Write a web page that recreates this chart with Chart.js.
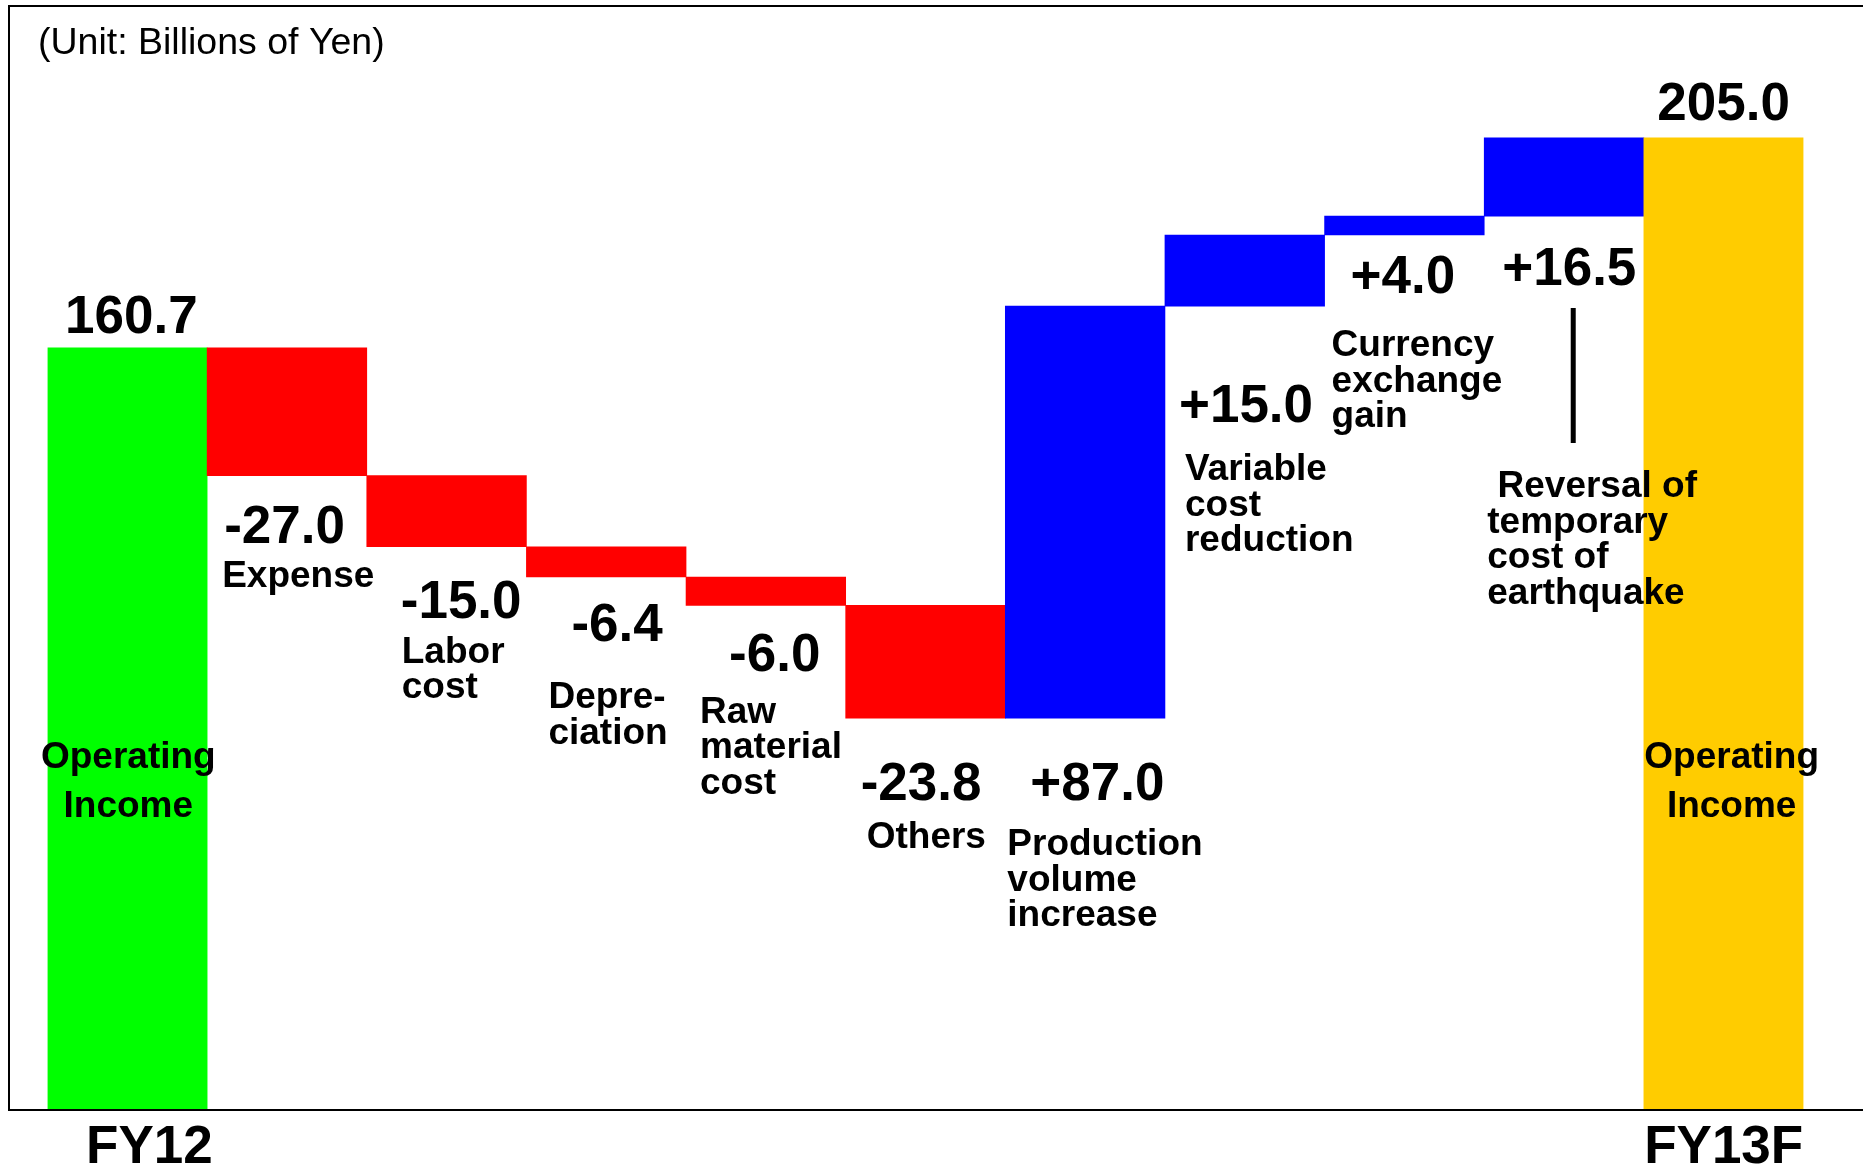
<!DOCTYPE html>
<html>
<head>
<meta charset="utf-8">
<script src="https://cdn.jsdelivr.net/npm/chart.js@4.4.1/dist/chart.umd.min.js"></script>
<style>
  html, body { margin: 0; padding: 0; background: #ffffff; }
  canvas { display: block; }
</style>
</head>
<body>
<canvas id="bridge" width="1863" height="1168"></canvas>
<script>
// Operating income bridge, FY12 -> FY13F (billions of yen)
const periods = ['FY12', 'FY13F'];
const startTotal = 160.7;
const endTotal = 205.0;
const changeValues = [-27.0, -15.0, -6.4, -6.0, -23.8, 87.0, 15.0, 4.0, 16.5];
const changeNames = [
  ['Expense'],
  ['Labor', 'cost'],
  ['Depre-', 'ciation'],
  ['Raw', 'material', 'cost'],
  ['Others'],
  ['Production', 'volume', 'increase'],
  ['Variable', 'cost', 'reduction'],
  ['Currency', 'exchange', 'gain'],
  [' Reversal of', 'temporary', 'cost of', 'earthquake']
];
const totalCaption = ['Operating', 'Income'];
const unitNote = '(Unit: Billions of Yen)';

const COLORS = { start: '#00ff00', end: '#ffcc00', down: '#ff0000', up: '#0000ff' };
const FONT = '"Liberation Sans", Arial, Helvetica, sans-serif';

// Categories along the bottom; only the two periods carry a tick label
const categories = [periods[0], ...changeNames.map(l => l.join(' ').trim()), periods[1]];

// Floating bar ranges built from the running total
const ranges = [[0, startTotal]];
let running = startTotal;
changeValues.forEach(v => {
  const next = Math.round((running + v) * 10) / 10;
  ranges.push([Math.min(running, next), Math.max(running, next)]);
  running = next;
});
ranges.push([0, endTotal]);
const barColors = [COLORS.start, ...changeValues.map(v => v < 0 ? COLORS.down : COLORS.up), COLORS.end];

// Label placement relative to each step bar: [dx from bar left, dy below bar's lower edge]
const valueLabelPos = [[17, 67], [34, 71], [45, 64], [43, 65.5], [15, 82], [25, 82], [14, 116], [26, 58], [18, 69]];
const nameLabelPos = [[15, 111], [35, 116], [22, 131], [14, 117.5], [21, 130], [2, 137], [20, 174], [7, 121], [3, 281]];
const NAME_LINE = 35.5;
const VALUE_FONT = 'bold 53px ' + FONT;
const NAME_FONT = 'bold 37px ' + FONT;

const fmtChange = v => (v > 0 ? '+' : '') + v.toFixed(1);

const annotate = {
  id: 'annotate',
  beforeDraw(chart) {
    const ctx = chart.ctx;
    ctx.save();
    ctx.fillStyle = '#ffffff';
    ctx.fillRect(0, 0, chart.width, chart.height);
    ctx.restore();
  },
  afterDatasetsDraw(chart) {
    const ctx = chart.ctx;
    const ys = chart.scales.y;
    const bars = chart.getDatasetMeta(0).data;
    const zeroPx = ys.getPixelForValue(0);
    ctx.save();

    // frame around the plot
    ctx.strokeStyle = '#000000';
    ctx.lineWidth = 2;
    ctx.beginPath();
    ctx.moveTo(1870, 6);
    ctx.lineTo(9, 6);
    ctx.lineTo(9, zeroPx + 1);
    ctx.lineTo(1870, zeroPx + 1);
    ctx.stroke();

    ctx.fillStyle = '#000000';
    ctx.textBaseline = 'alphabetic';

    // unit note
    ctx.font = '37.5px ' + FONT;
    ctx.textAlign = 'left';
    ctx.fillText(unitNote, 38, 54);

    // totals
    const first = bars[0], last = bars[bars.length - 1];
    ctx.font = VALUE_FONT;
    ctx.textAlign = 'center';
    ctx.fillText(startTotal.toFixed(1), first.x + 4, ys.getPixelForValue(startTotal) - 15);
    ctx.fillText(endTotal.toFixed(1), last.x, ys.getPixelForValue(endTotal) - 18);

    ctx.font = NAME_FONT;
    [[first, 1], [last, 8]].forEach(([bar, dx]) => {
      ctx.fillText(totalCaption[0], bar.x + dx, zeroPx - 341);
      ctx.fillText(totalCaption[1], bar.x + dx, zeroPx - 292);
    });

    // step labels
    ctx.textAlign = 'left';
    changeValues.forEach((v, i) => {
      const bar = bars[i + 1];
      const left = bar.x - bar.width / 2;
      const lower = ys.getPixelForValue(ranges[i + 1][0]);
      ctx.font = VALUE_FONT;
      ctx.fillText(fmtChange(v), left + valueLabelPos[i][0], lower + valueLabelPos[i][1]);
      ctx.font = NAME_FONT;
      changeNames[i].forEach((line, k) => {
        ctx.fillText(line, left + nameLabelPos[i][0], lower + nameLabelPos[i][1] + k * NAME_LINE);
      });
    });

    // leader line under the earthquake reversal value
    const rev = bars[bars.length - 2];
    const revLeft = rev.x - rev.width / 2;
    const revLower = ys.getPixelForValue(ranges[ranges.length - 2][0]);
    ctx.lineWidth = 5;
    ctx.beginPath();
    ctx.moveTo(revLeft + 89, revLower + 92);
    ctx.lineTo(revLeft + 89, revLower + 227);
    ctx.stroke();

    ctx.restore();
  }
};

new Chart(document.getElementById('bridge'), {
  type: 'bar',
  data: {
    labels: categories,
    datasets: [{
      data: ranges,
      backgroundColor: barColors,
      borderWidth: 0,
      barPercentage: 1.0,
      categoryPercentage: 1.0
    }]
  },
  options: {
    responsive: false,
    animation: false,
    layout: { padding: { left: 47.5, right: 59.5, top: 10, bottom: 0 } },
    plugins: { legend: { display: false }, tooltip: { enabled: false }, title: { display: false } },
    scales: {
      x: {
        grid: { display: false, drawTicks: false },
        border: { display: false },
        ticks: {
          autoSkip: false,
          maxRotation: 0,
          padding: 8,
          color: '#000000',
          font: { family: FONT, size: 53, weight: 'bold' },
          callback(value, index) {
            if (index === 0) return '\u00a0\u00a0\u00a0' + this.getLabelForValue(value);
            if (index === categories.length - 1) return this.getLabelForValue(value);
            return '';
          }
        },
        afterFit(scale) { scale.height = 59; }
      },
      y: {
        display: false,
        min: 0,
        max: 232
      }
    }
  },
  plugins: [annotate]
});
</script>
</body>
</html>
